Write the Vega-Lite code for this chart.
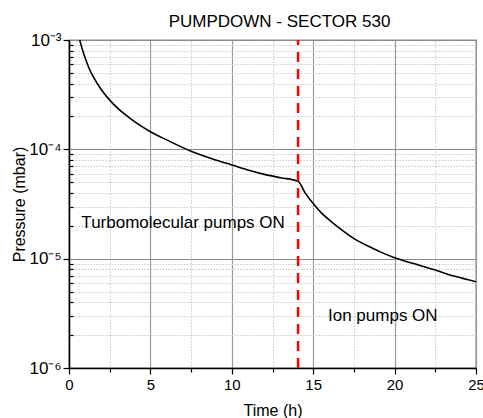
{
  "$schema": "https://vega.github.io/schema/vega-lite/v6.json",
  "width": 407,
  "height": 328,
  "autosize": {"type": "none"},
  "padding": {"left": 69, "top": 40, "right": 7, "bottom": 50},
  "title": {"text": "PUMPDOWN - SECTOR 530", "fontSize": 17, "fontWeight": "normal", "font": "Liberation Sans", "frame": "group", "anchor": "middle", "offset": -13, "baseline": "alphabetic", "dx": 7, "color": "#000000"},
  "config": {
    "font": "Liberation Sans",
    "view": {"stroke": "#222222", "strokeWidth": 1.2},
    "axis": {"domainColor": "#000000", "domainWidth": 1.5, "tickColor": "#000000", "tickWidth": 1.2, "labelColor": "#000000", "titleColor": "#000000", "titleFontWeight": "normal", "labelOverlap": false, "labelFlush": false, "labelBound": false}
  },
  "datasets": {
    "curve": [
      {"t": 0.66, "p": 0.001},
      {"t": 0.8, "p": 0.00084},
      {"t": 1.0, "p": 0.00068},
      {"t": 1.2, "p": 0.000567},
      {"t": 1.47, "p": 0.000467},
      {"t": 2.0, "p": 0.000349},
      {"t": 2.5, "p": 0.000282},
      {"t": 3.0, "p": 0.000237},
      {"t": 3.5, "p": 0.000205},
      {"t": 4.0, "p": 0.00018},
      {"t": 5.0, "p": 0.000145},
      {"t": 6.0, "p": 0.000122},
      {"t": 7.5, "p": 0.000096},
      {"t": 9.0, "p": 0.000080},
      {"t": 10.0, "p": 0.000072},
      {"t": 11.1, "p": 0.000064},
      {"t": 12.0, "p": 0.000059},
      {"t": 13.0, "p": 0.000055},
      {"t": 14.07, "p": 0.000051},
      {"t": 14.5, "p": 0.00004},
      {"t": 15.0, "p": 0.000032},
      {"t": 15.6, "p": 0.0000254},
      {"t": 16.0, "p": 0.0000225},
      {"t": 16.63, "p": 0.0000189},
      {"t": 17.55, "p": 0.0000151},
      {"t": 18.67, "p": 0.0000124},
      {"t": 19.08, "p": 0.0000116},
      {"t": 20.0, "p": 0.0000102},
      {"t": 21.1, "p": 0.00000906},
      {"t": 22.46, "p": 0.0000079},
      {"t": 23.7, "p": 0.0000069},
      {"t": 25.0, "p": 0.00000615}
    ],
    "switch": [{"t": 14.07, "lo": 0.000001, "hi": 0.001}],
    "notes": [
      {"t": 0.76, "p": 0.0000213, "label": "Turbomolecular pumps ON"},
      {"t": 15.91, "p": 0.00000298, "label": "Ion pumps ON"}
    ]
  },
  "layer": [
    {
      "data": {"name": "curve"},
      "mark": {"type": "line", "color": "#000000", "strokeWidth": 1.6, "clip": true, "interpolate": "monotone"},
      "encoding": {
        "x": {
          "field": "t", "type": "quantitative",
          "scale": {"domain": [0, 25], "nice": false, "zero": false},
          "axis": {
            "title": "Time (h)",
            "values": [0, 2.5, 5, 7.5, 10, 12.5, 15, 17.5, 20, 22.5, 25],
            "labelExpr": "datum.value % 5 == 0 ? datum.label : ''",
            "grid": true,
            "gridColor": {"condition": {"test": "datum.value % 5 == 0", "value": "#9a9a9a"}, "value": "#c8c8c8"},
            "gridDash": {"condition": {"test": "datum.value % 5 == 0", "value": []}, "value": [1.5, 1.5]},
            "gridWidth": {"condition": {"test": "datum.value % 5 == 0", "value": 1.2}, "value": 1},
            "tickSize": {"condition": {"test": "datum.value % 5 == 0", "value": 6}, "value": 4},
            "labelFontSize": 15,
            "labelPadding": 3,
            "titleFontSize": 16,
            "titlePadding": 10
          }
        },
        "y": {
          "field": "p", "type": "quantitative",
          "scale": {"type": "log", "domain": [0.000001, 0.001], "nice": false},
          "axis": {
            "title": "Pressure (mbar)",
            "values": [0.000001, 0.000002, 0.000003, 0.000004, 0.000005, 0.000006, 0.000007, 0.000008, 0.000009, 0.00001, 0.00002, 0.00003, 0.00004, 0.00005, 0.00006, 0.00007, 0.00008, 0.00009, 0.0001, 0.0002, 0.0003, 0.0004, 0.0005, 0.0006, 0.0007, 0.0008, 0.0009, 0.001],
            "labelExpr": "abs(log(datum.value)/LN10+3)<0.01 ? '10⁻³' : abs(log(datum.value)/LN10+4)<0.01 ? '10⁻⁴' : abs(log(datum.value)/LN10+5)<0.01 ? '10⁻⁵' : abs(log(datum.value)/LN10+6)<0.01 ? '10⁻⁶' : ''",
            "grid": true,
            "gridColor": {"condition": {"test": "abs(log(datum.value)/LN10 - round(log(datum.value)/LN10)) < 0.01", "value": "#8a8a8a"}, "value": "#c8c8c8"},
            "gridDash": {"condition": {"test": "abs(log(datum.value)/LN10 - round(log(datum.value)/LN10)) < 0.01", "value": []}, "value": [1.5, 1.5]},
            "gridWidth": {"condition": {"test": "abs(log(datum.value)/LN10 - round(log(datum.value)/LN10)) < 0.01", "value": 1.2}, "value": 1},
            "tickSize": {"condition": {"test": "abs(log(datum.value)/LN10 - round(log(datum.value)/LN10)) < 0.01", "value": 6}, "value": -4},
            "labelFontSize": 17,
            "labelPadding": 2,
            "titleFontSize": 16,
            "titlePadding": 1
          }
        }
      }
    },
    {
      "data": {"name": "switch"},
      "mark": {"type": "rule", "color": "#ff0000", "strokeWidth": 2.5, "strokeDash": [10, 7]},
      "encoding": {
        "x": {"field": "t", "type": "quantitative"},
        "y": {"field": "lo", "type": "quantitative"},
        "y2": {"field": "hi"}
      }
    },
    {
      "data": {"name": "notes"},
      "mark": {"type": "text", "align": "left", "baseline": "middle", "fontSize": 17, "color": "#000000"},
      "encoding": {
        "x": {"field": "t", "type": "quantitative"},
        "y": {"field": "p", "type": "quantitative"},
        "text": {"field": "label"}
      }
    }
  ]
}
